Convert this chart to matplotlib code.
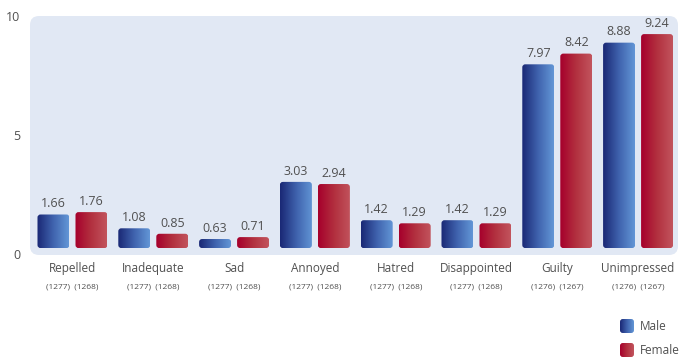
import numpy as np
import matplotlib
matplotlib.use("Agg")
import matplotlib.pyplot as plt
from matplotlib.patches import FancyBboxPatch
from matplotlib.colors import LinearSegmentedColormap

plt.rcParams['font.family'] = ['Open Sans', 'DejaVu Sans']

# ---------------------------------------------------------
# data
# ---------------------------------------------------------
categories = ["Repelled", "Inadequate", "Sad", "Annoyed", "Hatred",
              "Disappointed", "Guilty", "Unimpressed"]
male = [1.66, 1.08, 0.63, 3.03, 1.42, 1.42, 7.97, 8.88]
female = [1.76, 0.85, 0.71, 2.94, 1.29, 1.29, 8.42, 9.24]
n_male = [1277, 1277, 1277, 1277, 1277, 1277, 1276, 1276]
n_female = [1268, 1268, 1268, 1268, 1268, 1268, 1267, 1267]
yticks = [0, 5, 10]

male_cmap = LinearSegmentedColormap.from_list("m", ["#1a2875", "#3f62ad", "#6296d6"])
female_cmap = LinearSegmentedColormap.from_list("f", ["#a6002c", "#b2303f", "#c2545d"])
text_color = "#505050"

W, H = 688, 359
fig = plt.figure(figsize=(W / 100, H / 100), dpi=100)

# axes placement in pixels
ax_l, ax_r, ax_t, ax_b = 30, 678, 16, 255
xmin, xmax = -0.526, 7.494
ymin, ymax = -0.042, 10.0
ax = fig.add_axes([ax_l / W, 1 - ax_b / H, (ax_r - ax_l) / W, (ax_b - ax_t) / H])
ax.set_xlim(xmin, xmax)
ax.set_ylim(ymin, ymax)
ax.set_facecolor("none")
for s in ax.spines.values():
    s.set_visible(False)

# rounded background
ax_w_px, ax_h_px = ax_r - ax_l, ax_b - ax_t
bg = FancyBboxPatch((0, 0), 1, 1, boxstyle="round,pad=0,rounding_size=%f" % (9 / ax_w_px),
                    mutation_aspect=ax_w_px / ax_h_px, transform=ax.transAxes,
                    facecolor="#e1e8f4", edgecolor="none", zorder=0)
ax.add_patch(bg)

xu = (xmax - xmin) / ax_w_px   # data units per px in x
yu = (ymax - ymin) / ax_h_px   # data units per px in y
grad = np.linspace(0, 1, 64).reshape(1, -1)


def gradient_bar(axis, x0, x1, y0, y1, cmap, radius, aspect):
    patch = FancyBboxPatch((x0, y0), x1 - x0, y1 - y0,
                           boxstyle="round,pad=0,rounding_size=%f" % radius,
                           mutation_aspect=aspect, facecolor="none",
                           edgecolor="none", transform=axis.transData)
    axis.add_patch(patch)
    im = axis.imshow(grad, cmap=cmap, extent=(x0, x1, y0, y1), aspect="auto",
                     interpolation="bicubic", zorder=2)
    im.set_clip_path(patch)


bw = 32 * xu
off = 19 * xu
base = 0.25
x = np.arange(len(categories))
for i in x:
    for val, dx, cmap in ((male[i], -off, male_cmap), (female[i], off, female_cmap)):
        gradient_bar(ax, i + dx - bw / 2, i + dx + bw / 2, base, val, cmap,
                     3 * xu, yu / xu)
        ax.annotate(f"{val:.2f}", (i + dx, val), xytext=(0, 3),
                    textcoords="offset points", ha="center", va="bottom",
                    fontsize=9, color=text_color)
    ax.text(i, -0.055, categories[i], transform=ax.get_xaxis_transform(),
            ha="center", va="center", fontsize=8.5, color=text_color)
    ax.text(i, -0.135, f"({n_male[i]})  ({n_female[i]})",
            transform=ax.get_xaxis_transform(), ha="center", va="center",
            fontsize=6, color=text_color)

ax.set_xticks([])
ax.set_yticks(yticks)
ax.set_yticklabels([str(t) for t in yticks], fontsize=9, color=text_color)
ax.tick_params(axis="y", length=0, pad=7)

# legend
for (label, cmap, yc) in (("Male", male_cmap, 326), ("Female", female_cmap, 350)):
    lax = fig.add_axes([620 / W, 1 - (yc + 7) / H, 14 / W, 14 / H])
    lax.set_xlim(0, 1)
    lax.set_ylim(0, 1)
    lax.axis("off")
    gradient_bar(lax, 0, 1, 0, 1, cmap, 0.2, 1)
    fig.text(640 / W, 1 - yc / H, label, ha="left", va="center",
             fontsize=8.5, color=text_color)

fig.savefig("out.png", dpi=100)
